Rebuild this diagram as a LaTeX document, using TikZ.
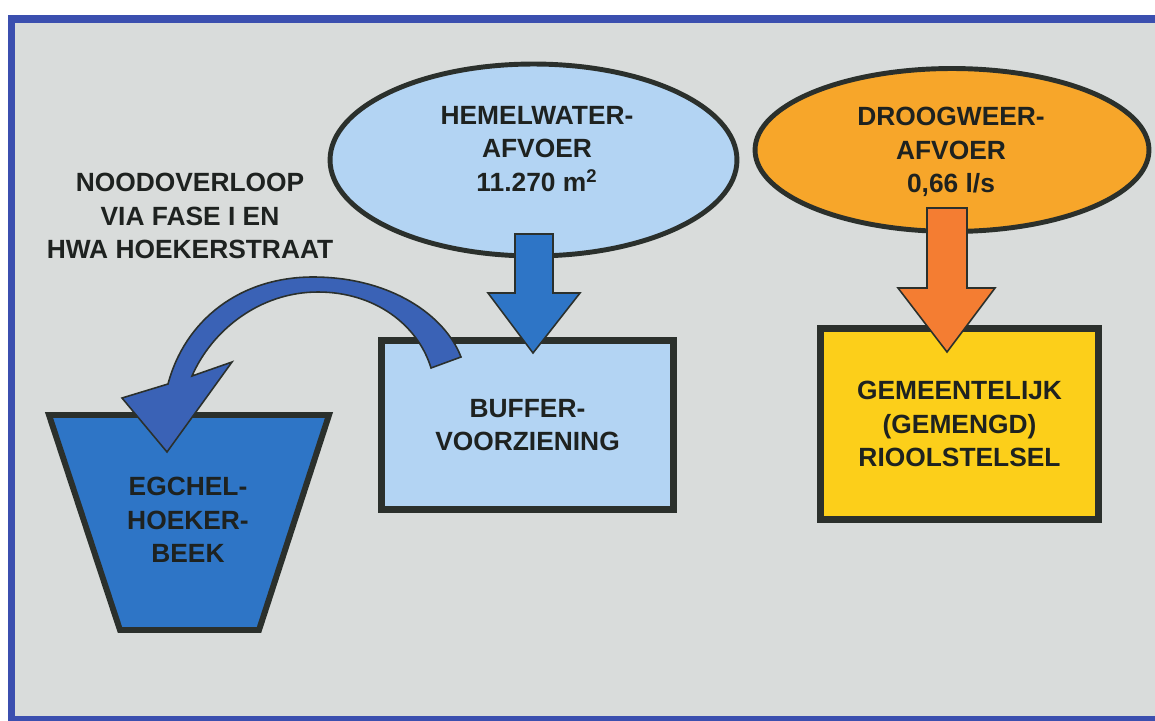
\documentclass[tikz,border=0pt]{standalone}
\usepackage{fontspec}
\setmainfont{Liberation Sans}
\usepackage{xcolor}
\usetikzlibrary{shapes.geometric,calc}

\definecolor{bggray}{HTML}{D9DCDB}
\definecolor{frameblue}{HTML}{3B4FAF}
\definecolor{lightblue}{HTML}{B3D4F3}
\definecolor{midblue}{HTML}{2E75C6}
\definecolor{curveblue}{HTML}{3A62B6}
\definecolor{orangeell}{HTML}{F7A62A}
\definecolor{orangearrow}{HTML}{F47D32}
\definecolor{yellowbox}{HTML}{FCCF1A}
\definecolor{edgedark}{HTML}{2B302C}
\definecolor{txtdark}{HTML}{1E2220}

\begin{document}
\begin{tikzpicture}[x=0.02cm,y=-0.02cm,
  lbl/.style={font=\bfseries\fontsize{15}{19}\selectfont, text=txtdark, align=center},
  ellbox/.style={ellipse, draw=edgedark, line width=2.8pt, inner sep=0pt},
  blockbox/.style={rectangle, draw=edgedark, line width=3.8pt, inner sep=0pt},
  blockarrow/.style={draw=edgedark, line width=0.9pt, line join=miter}]

  \useasboundingbox (0,0) rectangle (1155,720);
  \clip (0,0) rectangle (1155,720);

  % frame
  \draw[line width=4.5pt, draw=frameblue, fill=bggray] (11.5,19) rectangle (1185,719.5);

  % sources
  \node[ellbox, fill=lightblue, minimum width=8.14cm, minimum height=3.84cm] (hw) at (533.5,160) {};
  \node[lbl] (hwtxt) at (537,149) {HEMELWATER-\\AFVOER\\11.270 m\textsuperscript{2}};
  \node[ellbox, fill=orangeell, minimum width=7.88cm, minimum height=3.26cm] (dw) at (952,150) {};
  \node[lbl] (dwtxt) at (951,152) {DROOGWEER-\\AFVOER\\0,66 l/s};

  % receivers
  \node[blockbox, fill=lightblue, minimum width=5.84cm, minimum height=3.38cm, lbl] (buf) at (527.5,425) {BUFFER-\\VOORZIENING};
  \node[blockbox, fill=yellowbox, minimum width=5.56cm, minimum height=3.82cm, lbl] (riool) at (959.5,424) {GEMEENTELIJK\\(GEMENGD)\\RIOOLSTELSEL};
  \draw[draw=edgedark, line width=3.4pt, fill=midblue, line join=miter]
    (49,415) -- (329,415) -- (259,630) -- (120,630) -- cycle;
  \node[lbl] (beek) at (188,520) {EGCHEL-\\HOEKER-\\BEEK};

  % overflow note
  \node[lbl] (nood) at (190,216) {NOODOVERLOOP\\VIA FASE I EN\\HWA HOEKERSTRAAT};

  % block arrows
  \draw[blockarrow, fill=midblue]
    (515,234) -- (553,234) -- (553,293) -- (580,293) -- (533,353) -- (488,293) -- (515,293) -- cycle;
  \draw[blockarrow, fill=orangearrow]
    (927,208) -- (967,208) -- (967,288) -- (995,288) -- (947,352) -- (898,288) -- (927,288) -- cycle;

  % curved overflow arrow
  \draw[blockarrow, fill=curveblue]
    (461,357) .. controls (445,315) and (390,277) .. (313,277)
    .. controls (240,277) and (185,320) .. (168,384)
    -- (122,398) -- (167,452) -- (232,362) -- (192,376)
    .. controls (212,330) and (260,292) .. (318,292)
    .. controls (375,292) and (418,325) .. (431,368) -- cycle;
\end{tikzpicture}
\end{document}
